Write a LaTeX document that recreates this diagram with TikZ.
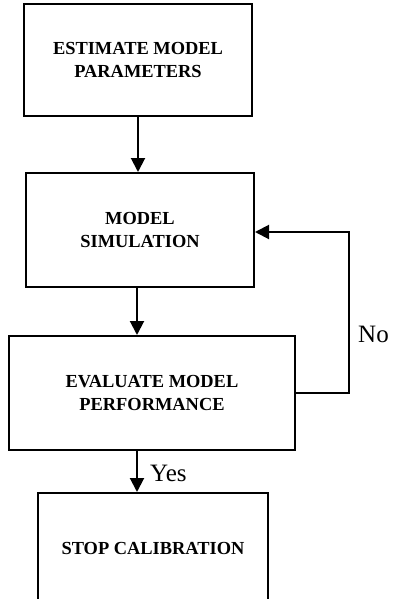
\documentclass[tikz,border=0pt]{standalone}
\usepackage{fontspec}
\setmainfont{Liberation Serif}
\usetikzlibrary{arrows.meta}
\begin{document}
\begin{tikzpicture}[x=1pt,y=1pt,
 box/.style={draw, line width=2pt, inner sep=0pt, align=center, font=\bfseries\fontsize{18.4}{23.5}\selectfont},
 arr/.style={line width=2pt, -{Triangle[length=14pt,width=14pt]}},
 lab/.style={font=\fontsize{25}{30}\selectfont, inner sep=0pt}]
\useasboundingbox (0,0) rectangle (394,-599);
\clip (0,0) rectangle (394,-599);
\node[box, minimum width=228pt, minimum height=112pt] (b1) at (138,-60) {ESTIMATE MODEL\\PARAMETERS};
\node[box, minimum width=228pt, minimum height=114pt] (b2) at (140,-230) {MODEL\\SIMULATION};
\node[box, minimum width=286pt, minimum height=114pt] (b3) at (152,-393) {EVALUATE MODEL\\PERFORMANCE};
\node[box, minimum width=230pt, minimum height=110pt] (b4) at (153,-548) {STOP CALIBRATION};
\draw[arr] (b1.south) -- (b1.south |- b2.north);
\draw[arr] ([xshift=-3pt]b2.south) -- ([xshift=-3pt]b2.south |- b3.north);
\draw[arr] ([xshift=-15pt]b3.south) -- ([xshift=-15pt]b3.south |- b4.north);
\draw[arr] (b3.east) -- ++(53,0) coordinate (c1) |- (b2.east |- 0,-232);
\node[lab, anchor=base west] (no) at (358,-342) {No};
\node[lab, anchor=base west] (yes) at (150,-481) {Yes};
\end{tikzpicture}
\end{document}
